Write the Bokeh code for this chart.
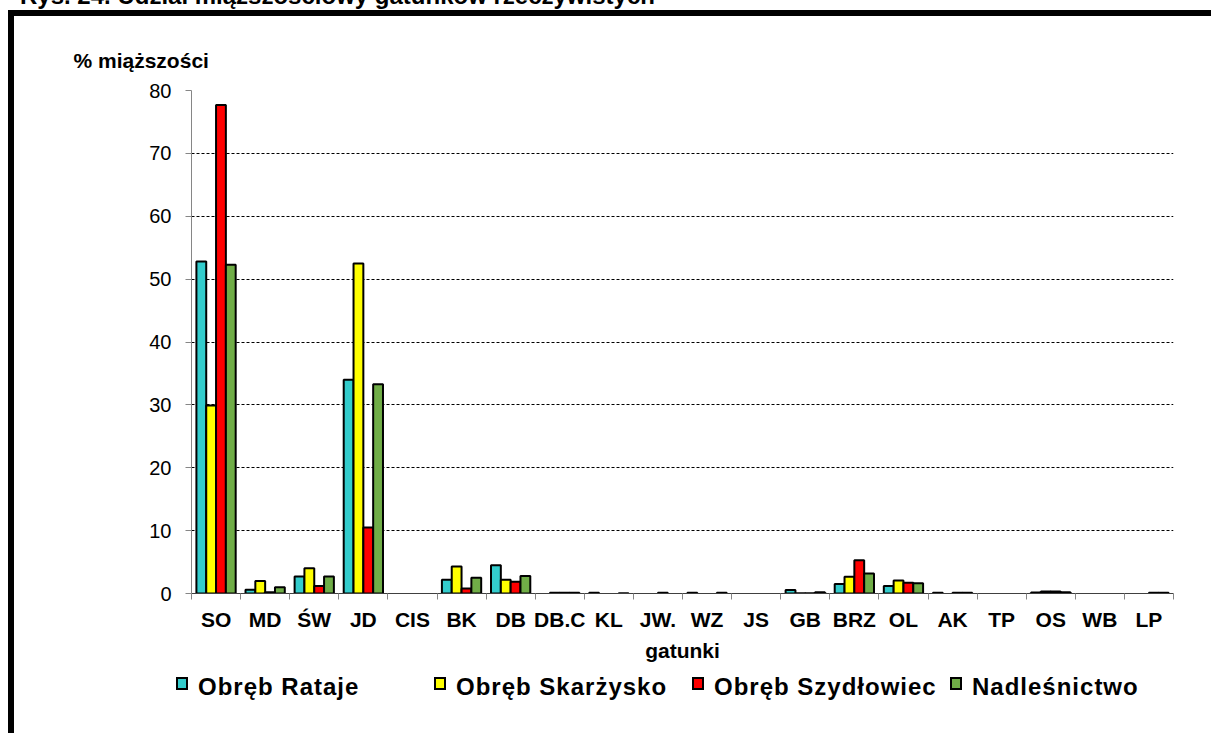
import numpy as np
from bokeh.plotting import figure
from bokeh.models import ColumnDataSource, FixedTicker, Div, Range1d
from bokeh.transform import dodge
from bokeh.layouts import column
from bokeh.embed import file_html
from bokeh.resources import INLINE

# ---- data ----
categories = ["SO", "MD", "ŚW", "JD", "CIS", "BK", "DB", "DB.C", "KL", "JW.",
              "WZ", "JS", "GB", "BRZ", "OL", "AK", "TP", "OS", "WB", "LP"]
rataje = [52.8, 0.6, 2.7, 34.0, 0, 2.2, 4.5, 0, 0.1, 0,
          0.1, 0, 0.55, 1.5, 1.2, 0.1, 0, 0.15, 0, 0]
skarzysko = [29.9, 2.0, 4.0, 52.5, 0, 4.3, 2.2, 0.1, 0, 0,
             0, 0, 0.05, 2.65, 2.05, 0, 0, 0.3, 0, 0]
szydlowiec = [77.7, 0.2, 1.2, 10.5, 0, 0.8, 1.85, 0.1, 0, 0.1,
              0, 0, 0.05, 5.3, 1.7, 0.1, 0, 0.3, 0, 0.1]
nadlesnictwo = [52.3, 1.0, 2.7, 33.3, 0, 2.5, 2.8, 0.1, 0.05, 0,
                0.1, 0, 0.2, 3.2, 1.65, 0.1, 0, 0.2, 0, 0.1]
series_names = ["Obręb Rataje", "Obręb Skarżysko", "Obręb Szydłowiec", "Nadleśnictwo"]
series_values = [rataje, skarzysko, szydlowiec, nadlesnictwo]
colors = ["#33CCCC", "#FFFF00", "#FF0000", "#70AD47"]
y_ticks = [0, 10, 20, 30, 40, 50, 60, 70, 80]
title_text = "Rys. 24. Udział miąższościowy gatunków rzeczywistych"
y_title = "% miąższości"
x_title = "gatunki"

FONT = "Liberation Sans"
n = len(categories)
pos = list(range(1, n + 1))

p = figure(width=1203, height=655, x_range=Range1d(0.5, n + 0.5), y_range=Range1d(0, 80),
           output_backend="svg", toolbar_location=None,
           min_border_left=177, min_border_right=44, min_border_top=74,
           min_border_bottom=78)
p.outline_line_color = None
p.background_fill_color = "white"
p.border_fill_color = "white"
p.margin = (0, 0, 0, 8)
p.styles = {"border-top": "6px solid black", "border-left": "6px solid black"}

# "% miąższości" as the figure title, shifted to the left
p.title.text = y_title
p.title.align = "left"
p.title.offset = -118
p.title.text_font = FONT
p.title.text_font_size = "21px"
p.title.text_font_style = "bold"
p.title.text_color = "black"
p.title.standoff = 38

offsets = [-0.3, -0.1, 0.1, 0.3]
for name, vals, col, off in zip(series_names, series_values, colors, offsets):
    src = ColumnDataSource(dict(x=pos, top=vals,
                                la=[1.0 if v > 0 else 0.0 for v in vals]))
    p.vbar(x=dodge("x", off), top="top", bottom=0, width=0.2, source=src,
           fill_color=col, line_color="black", line_width=2, line_alpha="la")

# grid
p.xgrid.grid_line_color = None
p.ygrid.ticker = FixedTicker(ticks=y_ticks)
p.ygrid.grid_line_color = "black"
p.ygrid.grid_line_dash = "3 2"
p.ygrid.grid_line_width = 1

# y axis
ya = p.yaxis[0]
ya.ticker = FixedTicker(ticks=y_ticks)
ya.axis_line_color = "#868686"
ya.major_tick_line_color = "#868686"
ya.major_tick_out = 6
ya.major_tick_in = 0
ya.minor_tick_line_color = None
ya.major_label_text_font = FONT
ya.major_label_text_font_size = "20px"
ya.major_label_text_color = "black"
ya.major_label_standoff = 14

# x axis
xa = p.xaxis[0]
xa.ticker = FixedTicker(ticks=pos, minor_ticks=[i + 0.5 for i in range(n + 1)])
xa.major_label_overrides = {i: c for i, c in zip(pos, categories)}
xa.axis_line_color = "#404040"
xa.major_tick_line_color = None
xa.major_tick_out = 0
xa.major_tick_in = 0
xa.minor_tick_line_color = "#868686"
xa.minor_tick_out = 6
xa.minor_tick_in = 0
xa.major_label_text_font = FONT
xa.major_label_text_font_size = "21px"
xa.major_label_text_font_style = "bold"
xa.major_label_text_color = "black"
xa.major_label_standoff = 8
xa.axis_label = x_title
xa.axis_label_text_font = FONT
xa.axis_label_text_font_size = "21px"
xa.axis_label_text_font_style = "bold"
xa.axis_label_text_color = "black"
xa.axis_label_standoff = 5

# ---- legend strip under the chart (HTML) ----
parts = []
for k, (name, col) in enumerate(zip(series_names, colors)):
    left = 162 + 258 * k
    parts.append(
        f'<div style="position:absolute;left:{left}px;top:12px;width:12px;height:13px;'
        f'background:{col};border:2px solid black;"></div>'
        f'<div style="position:absolute;left:{left + 22}px;top:10px;white-space:nowrap;">'
        f'{name}</div>')
legend_html = ('<div style="position:relative;width:1203px;height:68px;'
               f'font-family:\'{FONT}\';font-size:24px;font-weight:bold;'
               'letter-spacing:1px;line-height:24px;color:black;">'
               + "".join(parts) + '</div>')
legend_div = Div(text=legend_html, width=1203, height=68, margin=(0, 0, 0, 8),
                 styles={"border-left": "6px solid black", "background": "white"})

title = Div(text=title_text, height=26, margin=(-16, 0, 0, 20),
            styles={"font-family": FONT, "font-size": "24px", "font-weight": "bold",
                    "line-height": "24px", "white-space": "nowrap"})

layout = column(title, p, legend_div)
open("out.html", "w").write(file_html(layout, INLINE))
